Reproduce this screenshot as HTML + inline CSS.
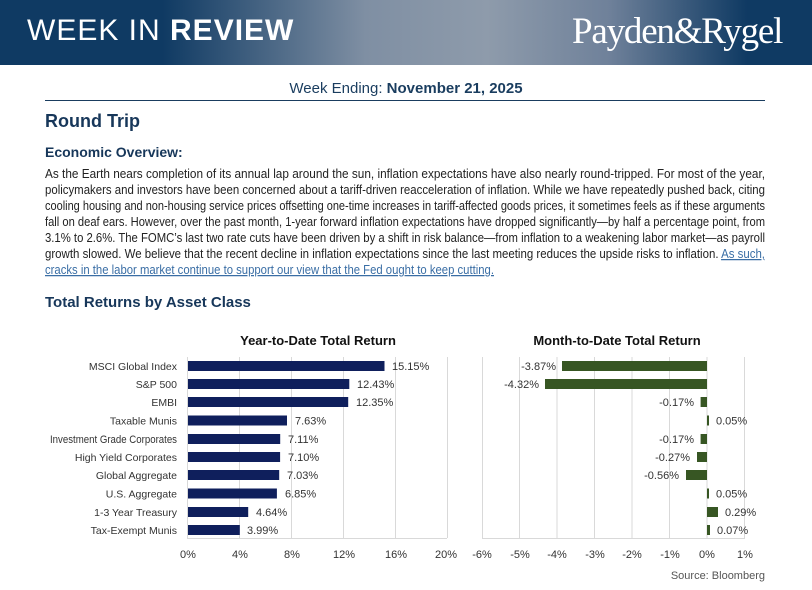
<!DOCTYPE html>
<html><head><meta charset="utf-8"><style>
body{margin:0;width:812px;height:590px;background:#fff;overflow:hidden;position:relative;font-family:"Liberation Sans",sans-serif;}
.hdr{position:absolute;left:0;top:0;width:812px;height:65px;background:linear-gradient(90deg,#0f3a63 0%,#0f3a63 20%,#7f8fa3 45%,#8e9bab 60%,#6f819a 75%,#0f3a63 92%,#0f3a63 100%);}
.wir{position:absolute;left:27px;top:14px;font-family:"Liberation Sans",sans-serif;color:#fff;font-size:30px;letter-spacing:1px;}
.pr{position:absolute;left:572px;top:10px;color:#fff;font-family:"Liberation Serif",serif;font-size:37px;letter-spacing:-1.2px;}
.we{position:absolute;left:0;width:812px;top:80px;text-align:center;font-size:15px;color:#1a3d5f;}
.rule{position:absolute;left:45px;top:100px;width:720px;height:1px;background:#1a3d5f;}
.h1{position:absolute;left:45px;top:111px;font-weight:bold;font-size:18px;color:#17375a;}
.h2{position:absolute;left:45px;top:144px;font-weight:bold;font-size:14px;color:#17375a;}
.h3{position:absolute;left:45px;top:294px;font-weight:bold;font-size:15px;color:#17375a;}
svg{position:absolute;left:0;top:0;}
</style></head><body>
<div class="hdr"></div>
<div class="wir">WEEK IN <b>REVIEW</b></div>
<div class="pr">Payden&amp;Rygel</div>
<div class="we">Week Ending: <b>November 21, 2025</b></div>
<div class="rule"></div>
<div class="h1">Round Trip</div>
<div class="h2">Economic Overview:</div>
<div class="h3">Total Returns by Asset Class</div>
<svg width="812" height="590" font-family="Liberation Sans, sans-serif" font-size="11">
<g font-size="12.5" fill="#222">
<text x="45" y="178" textLength="720" lengthAdjust="spacingAndGlyphs">As the Earth nears completion of its annual lap around the sun, inflation expectations have also nearly round-tripped. For most of the year,</text>
<text x="45" y="194" textLength="720" lengthAdjust="spacingAndGlyphs">policymakers and investors have been concerned about a tariff-driven reacceleration of inflation. While we have repeatedly pushed back, citing</text>
<text x="45" y="210" textLength="720" lengthAdjust="spacingAndGlyphs">cooling housing and non-housing service prices offsetting one-time increases in tariff-affected goods prices, it sometimes feels as if these arguments</text>
<text x="45" y="226" textLength="720" lengthAdjust="spacingAndGlyphs">fall on deaf ears. However, over the past month, 1-year forward inflation expectations have dropped significantly—by half a percentage point, from</text>
<text x="45" y="242" textLength="720" lengthAdjust="spacingAndGlyphs">3.1% to 2.6%. The FOMC’s last two rate cuts have been driven by a shift in risk balance—from inflation to a weakening labor market—as payroll</text>
<text x="45" y="258" textLength="720" lengthAdjust="spacingAndGlyphs">growth slowed. We believe that the recent decline in inflation expectations since the last meeting reduces the upside risks to inflation. <tspan fill="#3a6ea5" text-decoration="underline">As such,</tspan></text>
<text x="45" y="274" textLength="449" lengthAdjust="spacingAndGlyphs" fill="#3a6ea5" text-decoration="underline">cracks in the labor market continue to support our view that the Fed ought to keep cutting.</text>
</g>
<text x="318" y="345" text-anchor="middle" font-weight="bold" font-size="13" fill="#111">Year-to-Date Total Return</text>
<g stroke="#d9d9d9" stroke-width="1">
<line x1="239.5" y1="357" x2="239.5" y2="538"/><line x1="291.5" y1="357" x2="291.5" y2="538"/><line x1="343.5" y1="357" x2="343.5" y2="538"/><line x1="395.5" y1="357" x2="395.5" y2="538"/><line x1="447.5" y1="357" x2="447.5" y2="538"/>
<line x1="187.5" y1="357" x2="187.5" y2="538"/><line x1="187" y1="538.5" x2="447" y2="538.5"/>
</g>
<g fill="#0f1f5c">
<rect x="188" y="361" width="196.5" height="10"/><rect x="188" y="379" width="161.3" height="10"/><rect x="188" y="397" width="160.2" height="10"/><rect x="188" y="415.5" width="99" height="10"/><rect x="188" y="434" width="92.2" height="10"/><rect x="188" y="452" width="92.1" height="10"/><rect x="188" y="470" width="91.2" height="10"/><rect x="188" y="488.5" width="88.9" height="10"/><rect x="188" y="507" width="60.2" height="10"/><rect x="188" y="525" width="51.8" height="10"/>
</g>
<g fill="#333" text-anchor="end" font-size="10.5">
<text x="177" y="370">MSCI Global Index</text><text x="177" y="388">S&amp;P 500</text><text x="177" y="406">EMBI</text><text x="177" y="424.5">Taxable Munis</text><text x="177" y="443" textLength="127" lengthAdjust="spacingAndGlyphs" font-size="11">Investment Grade Corporates</text><text x="177" y="461">High Yield Corporates</text><text x="177" y="479">Global Aggregate</text><text x="177" y="497.5">U.S. Aggregate</text><text x="177" y="516">1-3 Year Treasury</text><text x="177" y="534">Tax-Exempt Munis</text>
</g>
<g fill="#333">
<text x="392" y="370">15.15%</text><text x="357" y="388">12.43%</text><text x="356" y="406">12.35%</text><text x="295" y="424.5">7.63%</text><text x="288" y="443">7.11%</text><text x="288" y="461">7.10%</text><text x="287" y="479">7.03%</text><text x="285" y="497.5">6.85%</text><text x="256" y="516">4.64%</text><text x="247" y="534">3.99%</text>
</g>
<g fill="#333" text-anchor="middle">
<text x="188" y="558">0%</text><text x="240" y="558">4%</text><text x="292" y="558">8%</text><text x="344" y="558">12%</text><text x="396" y="558">16%</text><text x="446" y="558">20%</text>
</g>
<text x="617" y="345" text-anchor="middle" font-weight="bold" font-size="13" fill="#111">Month-to-Date Total Return</text>
<g stroke="#d9d9d9" stroke-width="1">
<line x1="519.5" y1="357" x2="519.5" y2="538"/><line x1="557" y1="357" x2="557" y2="538"/><line x1="594.5" y1="357" x2="594.5" y2="538"/><line x1="632" y1="357" x2="632" y2="538"/><line x1="669.5" y1="357" x2="669.5" y2="538"/><line x1="707" y1="357" x2="707" y2="538"/><line x1="744.5" y1="357" x2="744.5" y2="538"/>
<line x1="482.5" y1="357" x2="482.5" y2="538"/><line x1="482" y1="538.5" x2="745" y2="538.5"/>
</g>
<g fill="#375623">
<rect x="562" y="361" width="145" height="10"/><rect x="545" y="379" width="162" height="10"/><rect x="700.6" y="397" width="6.4" height="10"/><rect x="707" y="415.5" width="2" height="10"/><rect x="700.6" y="434" width="6.4" height="10"/><rect x="697" y="452" width="10" height="10"/><rect x="686" y="470" width="21" height="10"/><rect x="707" y="488.5" width="2" height="10"/><rect x="707" y="507" width="11" height="10"/><rect x="707" y="525" width="3" height="10"/>
</g>
<g fill="#333" text-anchor="end">
<text x="556" y="370">-3.87%</text><text x="539" y="388">-4.32%</text><text x="694" y="406">-0.17%</text><text x="694" y="443">-0.17%</text><text x="690" y="461">-0.27%</text><text x="679" y="479">-0.56%</text>
</g>
<g fill="#333">
<text x="716" y="424.5">0.05%</text><text x="716" y="497.5">0.05%</text><text x="725" y="516">0.29%</text><text x="717" y="534">0.07%</text>
</g>
<g fill="#333" text-anchor="middle">
<text x="482" y="558">-6%</text><text x="520" y="558">-5%</text><text x="557" y="558">-4%</text><text x="595" y="558">-3%</text><text x="632" y="558">-2%</text><text x="670" y="558">-1%</text><text x="707" y="558">0%</text><text x="745" y="558">1%</text>
</g>
<text x="765" y="579" text-anchor="end" fill="#555" font-size="11">Source: Bloomberg</text>
</svg>
</body></html>
